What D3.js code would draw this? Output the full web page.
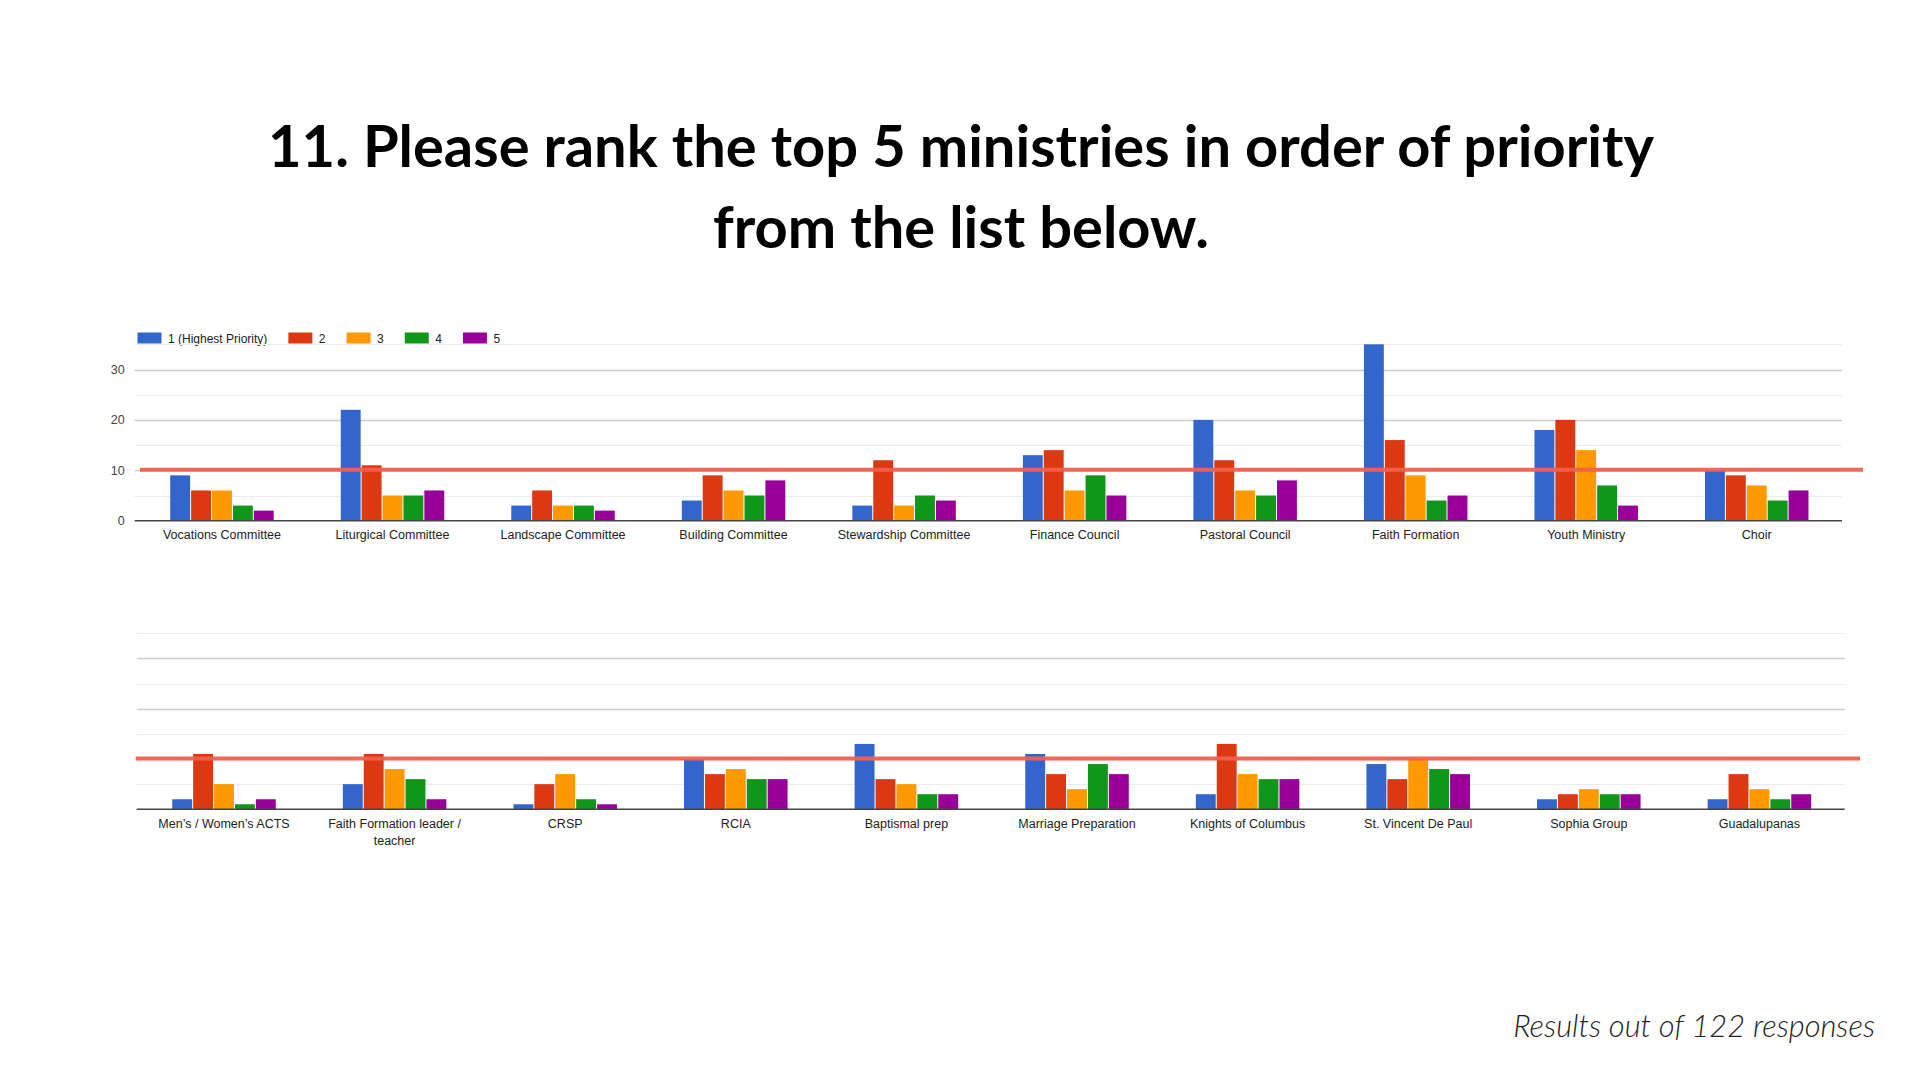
<!DOCTYPE html>
<html>
<head>
<meta charset="utf-8">
<script src="https://cdn.jsdelivr.net/npm/d3@7"></script>
<style>
    html, body { margin: 0; padding: 0; background: #fff; }
    svg { display: block; }
</style>
</head>
<body>
<script>
//
// DATA
//
const seriesNames = ['1 (Highest Priority)', '2', '3', '4', '5']
const seriesColors = ['#3366cc', '#dc3912', '#ff9900', '#109618', '#990099']

const topCategories = [
    'Vocations Committee', 'Liturgical Committee', 'Landscape Committee', 'Building Committee',
    'Stewardship Committee', 'Finance Council', 'Pastoral Council', 'Faith Formation',
    'Youth Ministry', 'Choir',
]
const topRank1 = [9, 22, 3, 4, 3, 13, 20, 35, 18, 10]
const topRank2 = [6, 11, 6, 9, 12, 14, 12, 16, 20, 9]
const topRank3 = [6, 5, 3, 6, 3, 6, 6, 9, 14, 7]
const topRank4 = [3, 5, 3, 5, 5, 9, 5, 4, 7, 4]
const topRank5 = [2, 6, 2, 8, 4, 5, 8, 5, 3, 6]

const bottomCategories = [
    'Men’s / Women’s ACTS', 'Faith Formation leader / teacher', 'CRSP', 'RCIA', 'Baptismal prep',
    'Marriage Preparation', 'Knights of Columbus', 'St. Vincent De Paul', 'Sophia Group', 'Guadalupanas',
]
const bottomRank1 = [2, 5, 1, 10, 13, 11, 3, 9, 2, 2]
const bottomRank2 = [11, 11, 5, 7, 6, 7, 13, 6, 3, 7]
const bottomRank3 = [5, 8, 7, 8, 5, 4, 7, 10, 4, 4]
const bottomRank4 = [1, 6, 2, 6, 3, 9, 6, 8, 3, 2]
const bottomRank5 = [2, 2, 1, 6, 3, 7, 6, 7, 3, 3]

const yTicks = [0, 10, 20, 30]
const yMax = 35
const markerValue = 10

const titleLines = ['11. Please rank the top 5 ministries in order of priority', 'from the list below.']
const footnote = 'Results out of 122 responses'

//
// GLOBALS
//
const width = 1920
const height = 1080
const axisFont = '"Liberation Sans", Arial, sans-serif'
const slideFont = 'Lato, "Open Sans", sans-serif'

const svg = d3.select('body').append('svg').attr('width', width).attr('height', height)
svg.append('rect').attr('width', width).attr('height', height).attr('fill', '#fff')

// builds a rows table for one chart from the series arrays
const buildRows = (categories, series) =>
    categories.map((c, i) => ({ category: c, values: series.map((s) => s[i]) }))

//
// Title and footnote
//
const plotTitle = () => {
    const g = svg.append('g').attr('font-family', slideFont).attr('font-weight', 700).attr('fill', '#000')
    const baselines = [167, 248]
    const texts = titleLines.map((t, i) =>
        g.append('text').attr('x', 961).attr('y', baselines[i]).attr('text-anchor', 'middle')
            .attr('font-size', 54).text(t)
    )
    // fit the first line to the width it has on the slide, second line follows
    const w = texts[0].node().getComputedTextLength()
    const size = 54 * 1386 / w
    texts.forEach((t) => t.attr('font-size', size))

    const foot = svg.append('text')
        .attr('x', 1875).attr('y', 1037).attr('text-anchor', 'end')
        .attr('font-family', slideFont).attr('font-style', 'italic').attr('font-weight', 300)
        .attr('font-size', 30).attr('fill', '#222').text(footnote)
    const fw = foot.node().getComputedTextLength()
    foot.attr('font-size', 30 * 362 / fw)
}

//
// Legend (top chart only)
//
const plotLegend = () => {
    const g = svg.append('g').attr('font-family', axisFont).attr('font-size', 12).attr('fill', '#222')
    let x = 137.5
    seriesNames.forEach((name, i) => {
        g.append('rect').attr('x', x).attr('y', 332.5).attr('width', 24).attr('height', 11)
            .attr('fill', seriesColors[i])
        const t = g.append('text').attr('x', x + 30.5).attr('y', 343).text(name)
        x += 30.5 + t.node().getComputedTextLength() + 21
    })
}

// wrap a label into lines that fit the band
const wrapLabel = (textSel, label, maxW) => {
    const words = label.split(' ')
    let line = []
    let tspan = textSel.append('tspan').attr('x', textSel.attr('x')).attr('dy', 0)
    for (const word of words) {
        line.push(word)
        tspan.text(line.join(' '))
        if (tspan.node().getComputedTextLength() > maxW && line.length > 1) {
            line.pop()
            tspan.text(line.join(' '))
            line = [word]
            tspan = textSel.append('tspan').attr('x', textSel.attr('x')).attr('dy', 17).text(word)
        }
    }
}

//
// One grouped bar chart
//
const plotChart = (rows, opts) => {
    const { x0, x1, yBase, yTop, showYLabels, lineX0, lineX1 } = opts
    const g = svg.append('g')

    const x = d3.scaleBand().domain(rows.map((d) => d.category)).range([x0, x1])
    const y = d3.scaleLinear().domain([0, yMax]).range([yBase, yTop])
    // bars take about 61% of each band
    const xSeries = d3.scaleBand().domain(d3.range(seriesNames.length))
        .range([0, x.bandwidth()]).paddingOuter(1.58)

    // gridlines, every 5 with heavier lines at labelled ticks
    const grid = d3.range(5, yMax + 1, 5)
    g.append('g').selectAll('line').data(grid).join('line')
        .attr('x1', x0 - 2).attr('x2', x1)
        .attr('y1', (d) => Math.round(y(d)) + 0.5).attr('y2', (d) => Math.round(y(d)) + 0.5)
        .attr('stroke', (d) => (yTicks.includes(d) ? '#cccccc' : '#ebebeb'))
        .attr('stroke-width', (d) => (yTicks.includes(d) ? 1.3 : 1))

    if (showYLabels) {
        const axis = d3.axisLeft(y).tickValues(yTicks).tickSize(0).tickPadding(12)
        const ag = g.append('g').attr('transform', `translate(${x0},0)`).call(axis)
        ag.select('.domain').remove()
        ag.selectAll('text').attr('font-family', axisFont).attr('font-size', 12.5).attr('fill', '#444')
    }

    // bars
    const groups = g.append('g').selectAll('g').data(rows).join('g')
        .attr('transform', (d) => `translate(${x(d.category)},0)`)
    groups.selectAll('rect')
        .data((d) => d.values.map((v, i) => ({ v, i })))
        .join('rect')
        .attr('x', (d) => xSeries(d.i) + 0.5)
        .attr('width', xSeries.bandwidth() - 1)
        .attr('y', (d) => y(d.v))
        .attr('height', (d) => y(0) - y(d.v))
        .attr('fill', (d) => seriesColors[d.i])

    // baseline
    g.append('line').attr('x1', x0 - 2).attr('x2', x1).attr('y1', y(0)).attr('y2', y(0))
        .attr('stroke', '#444').attr('stroke-width', 1.5)

    // category labels
    const lg = g.append('g').attr('font-family', axisFont).attr('font-size', 12.5).attr('fill', '#222')
        .attr('text-anchor', 'middle')
    rows.forEach((d) => {
        const t = lg.append('text').attr('x', x(d.category) + x.bandwidth() / 2).attr('y', y(0) + 18.5)
        wrapLabel(t, d.category, x.bandwidth() - 8)
    })

    // the red marker line drawn over the chart at 10
    svg.append('line').attr('x1', lineX0).attr('x2', lineX1)
        .attr('y1', y(markerValue) - 0.5).attr('y2', y(markerValue) - 0.5)
        .attr('stroke', '#f2604d').attr('stroke-width', 4).attr('opacity', 0.95)
}

//
// RENDER
//
plotTitle()
plotLegend()
plotChart(buildRows(topCategories, [topRank1, topRank2, topRank3, topRank4, topRank5]), {
    x0: 136.7, x1: 1842, yBase: 520.7, yTop: 344.3, showYLabels: true, lineX0: 140, lineX1: 1863,
})
plotChart(buildRows(bottomCategories, [bottomRank1, bottomRank2, bottomRank3, bottomRank4, bottomRank5]), {
    x0: 138.7, x1: 1844.7, yBase: 809.3, yTop: 633.3, showYLabels: false, lineX0: 135.7, lineX1: 1860,
})
</script>
</body>
</html>
